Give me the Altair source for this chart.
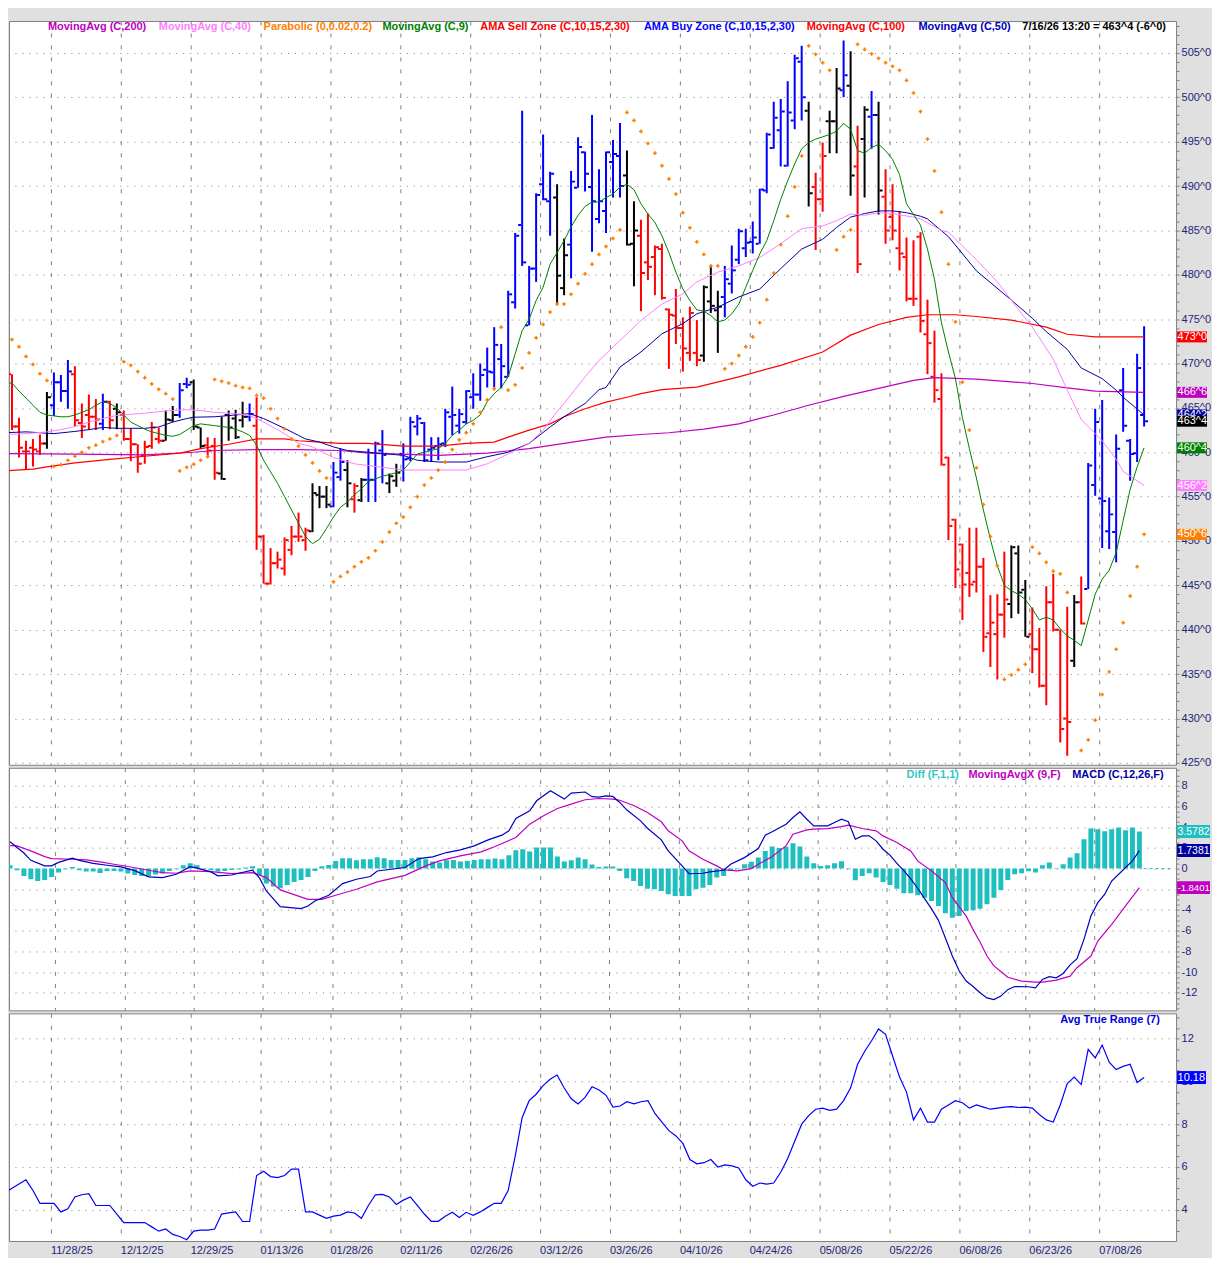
import json
import altair as alt
import pandas as pd

FONT = "Liberation Sans"
AXIS_TXT = "#24247a"
GRID = "#808080"
TEAL = "#20BFBF"

# ---------------- x axis: bar index, date labels at gridlines ----------------
dates = ["11/28/25", "12/12/25", "12/29/25", "01/13/26", "01/28/26", "02/11/26",
         "02/26/26", "03/12/26", "03/26/26", "04/10/26", "04/24/26", "05/08/26",
         "05/22/26", "06/08/26", "06/23/26", "07/08/26"]
date_pos = [6.5, 16.5, 26.5, 36.5, 46.5, 56.5, 66.5, 76.5, 86.5, 96.5,
            106.5, 116.5, 126.5, 136.5, 146.5, 156.5]
last_stamp = "7/16/26 13:20"

# ---------------- price bars ----------------
high = [471.9, 468.8, 463.9, 461.3, 461.5, 462.0, 466.8, 469.0, 468.7, 470.4,
        469.7, 465.5, 466.5, 466.0, 466.6, 465.8, 465.5, 464.7, 462.7, 460.9,
        461.3, 463.4, 462.8, 464.7, 465.2, 467.8, 468.4, 468.2, 462.8, 461.7,
        461.6, 464.0, 464.7, 464.8, 465.7, 465.5, 466.2, 450.7, 449.2, 448.8,
        450.4, 451.7, 453.2, 451.5, 456.5, 456.2, 456.2, 458.9, 460.4, 459.1,
        456.5, 457.1, 460.4, 461.2, 462.5, 457.6, 458.7, 461.0, 464.0, 464.2,
        463.4, 461.7, 461.7, 464.9, 467.4, 464.9, 467.0, 468.9, 470.0, 471.8,
        474.1, 472.2, 478.2, 484.7, 498.5, 481.0, 489.2, 495.8, 491.6, 490.2,
        484.1, 491.7, 495.5, 493.9, 498.0, 491.9, 493.9, 495.2, 497.1, 494.0,
        488.3, 486.2, 486.9, 483.3, 483.5, 476.2, 478.4, 475.2, 476.4, 474.9,
        478.8, 481.0, 478.2, 481.0, 483.3, 485.2, 485.2, 486.0, 489.7, 496.0,
        499.5, 499.8, 501.8, 504.8, 505.8, 499.5, 491.5, 494.9, 498.5, 503.3,
        506.4, 505.2, 496.8, 499.0, 500.7, 499.5, 491.9, 490.2, 487.2, 484.2,
        483.9, 484.8, 477.2, 473.7, 468.9, 459.5, 452.5, 449.7, 451.5, 451.5,
        448.1, 443.9, 444.0, 448.8, 449.5, 449.5, 445.6, 442.5, 440.2, 444.9,
        446.3, 440.0, 442.6, 443.9, 446.0, 458.8, 464.9, 465.9, 454.9, 462.0,
        469.5, 461.5, 471.1, 474.2]
low = [467.9, 462.5, 459.4, 458.1, 458.4, 459.7, 460.4, 464.1, 465.7, 464.9,
       462.9, 461.6, 462.5, 462.5, 462.5, 462.6, 462.6, 461.3, 459.0, 457.7,
       458.7, 460.4, 461.0, 461.3, 463.4, 463.9, 467.2, 462.5, 460.4, 459.5,
       456.9, 456.9, 461.3, 461.5, 462.8, 463.5, 449.0, 445.2, 445.1, 446.9,
       446.1, 448.4, 449.9, 448.9, 451.0, 453.7, 453.7, 453.8, 456.8, 453.8,
       453.2, 454.4, 454.4, 454.4, 456.5, 455.4, 456.1, 456.7, 459.0, 461.9,
       458.9, 458.9, 459.1, 460.6, 461.9, 462.1, 463.2, 464.9, 465.8, 467.3,
       467.3, 467.2, 468.5, 476.2, 481.0, 474.3, 479.2, 488.4, 484.4, 476.8,
       477.7, 479.6, 489.8, 489.4, 482.6, 485.8, 484.7, 488.7, 488.7, 483.3,
       478.7, 475.9, 479.4, 477.7, 477.2, 469.4, 472.2, 469.1, 470.3, 469.7,
       470.2, 475.7, 471.2, 475.2, 477.9, 481.2, 482.0, 482.4, 483.5, 489.2,
       494.2, 492.2, 492.2, 496.4, 497.4, 487.7, 482.8, 487.1, 493.7, 493.7,
       500.0, 488.9, 480.2, 488.7, 494.2, 486.8, 483.5, 483.9, 480.5, 477.0,
       476.5, 473.5, 468.8, 465.6, 458.5, 450.1, 444.7, 441.1, 443.7, 444.2,
       437.5, 435.8, 434.4, 439.1, 441.3, 441.8, 439.2, 435.1, 433.5, 431.5,
       439.8, 427.3, 425.8, 435.8, 440.6, 444.6, 455.1, 449.2, 449.1, 447.6,
       462.3, 456.8, 458.9, 462.9]
opn = [469.0, 468.8, 462.9, 460.1, 460.5, 460.1, 461.0, 465.3, 467.9, 466.9,
       468.8, 463.3, 464.2, 464.0, 463.2, 465.7, 464.9, 464.2, 461.5, 460.9,
       459.7, 460.7, 461.5, 461.3, 463.6, 464.2, 467.7, 467.9, 462.8, 460.8,
       460.7, 457.6, 464.2, 463.8, 463.6, 464.0, 463.0, 450.5, 445.2, 447.5,
       446.9, 449.0, 450.5, 450.1, 451.1, 455.2, 455.0, 453.9, 457.2, 458.0,
       454.7, 454.6, 456.9, 456.9, 460.2, 456.5, 456.8, 459.8, 459.3, 462.9,
       463.3, 460.3, 460.7, 461.0, 464.0, 463.0, 463.4, 466.2, 466.5, 469.3,
       469.0, 470.5, 468.5, 476.9, 485.6, 474.3, 480.7, 490.2, 488.3, 488.7,
       478.5, 483.4, 489.8, 493.8, 489.9, 486.3, 487.2, 492.7, 493.4, 491.2,
       483.5, 484.4, 481.4, 482.0, 482.9, 476.1, 475.4, 474.0, 471.2, 471.2,
       470.9, 477.0, 476.0, 477.5, 479.0, 481.7, 483.0, 483.7, 483.5, 489.5,
       494.3, 496.3, 492.3, 497.4, 504.0, 498.5, 489.9, 488.5, 497.3, 497.3,
       500.8, 501.3, 492.2, 495.3, 497.8, 498.0, 488.8, 486.5, 483.0, 482.0,
       477.3, 484.3, 473.3, 468.5, 466.0, 459.4, 452.4, 449.6, 446.4, 445.4,
       447.1, 439.6, 439.5, 441.7, 442.9, 448.6, 444.5, 439.5, 437.8, 433.7,
       443.1, 440.0, 430.0, 436.5, 443.1, 444.6, 456.3, 454.8, 451.1, 451.0,
       467.0, 461.3, 459.9, 464.2]
close = [469.0, 462.9, 460.5, 460.1, 460.3, 461.0, 466.2, 467.9, 466.9, 469.1,
         463.6, 462.9, 464.0, 463.7, 465.7, 463.6, 464.5, 461.5, 460.9, 458.7,
         460.6, 462.8, 461.3, 463.7, 464.2, 467.0, 467.6, 462.9, 460.7, 460.2,
         457.7, 457.0, 462.8, 461.7, 464.0, 464.3, 450.5, 445.2, 447.5, 447.9,
         450.1, 450.5, 450.5, 451.2, 455.4, 455.0, 454.1, 457.7, 458.9, 456.5,
         456.2, 456.9, 456.9, 461.0, 459.7, 457.3, 457.7, 459.2, 463.4, 463.8,
         459.1, 460.5, 460.9, 464.5, 464.2, 464.3, 466.9, 466.5, 468.7, 469.1,
         472.1, 469.7, 477.8, 484.4, 481.4, 480.7, 489.0, 488.5, 491.4, 479.9,
         482.2, 490.5, 494.4, 491.4, 488.3, 488.3, 493.8, 493.6, 490.0, 483.4,
         485.0, 480.2, 480.9, 483.1, 477.4, 475.5, 474.0, 471.7, 475.7, 470.4,
         478.6, 476.5, 476.4, 479.5, 480.5, 484.9, 483.6, 484.2, 489.6, 495.8,
         497.7, 498.4, 498.3, 504.4, 500.0, 489.2, 488.5, 493.4, 497.3, 501.0,
         502.5, 491.2, 481.2, 498.6, 498.0, 489.5, 485.0, 485.0, 482.4, 477.3,
         477.3, 474.8, 472.3, 467.0, 458.6, 451.7, 446.8, 445.1, 445.1, 447.1,
         439.2, 440.8, 441.7, 443.4, 449.3, 444.2, 439.2, 437.8, 433.7, 443.1,
         440.0, 428.8, 429.6, 443.1, 440.7, 458.5, 463.4, 454.5, 453.0, 460.4,
         463.0, 459.8, 469.5, 463.5]
# AMA zone of each bar: B = buy zone (blue), R = sell zone (red), K = neutral (black)
zone = ("BRRRRRKBBBRRRRBRKRRRRRRKKBBKKRRKKKKBRRRRRRRRKKKBBKRKBBBKK"
        "BBBBBBBBBBBBBBBBBBBBBBKKBBBBBBBBKKRRRRRRRRRKKKBBBBBBBBBBBB"
        "KRRKKBKRKBKRRRRRRRRRRRRRRRRRRKKKRRRRRRKRBBBBBBBBB")

# ---------------- parabolic SAR ----------------
sar = [473.2, 472.7, 471.9, 470.8, 469.9, 468.85, 468.1, 458.4, 458.6, 459.1,
       459.55, 460.0, 460.5, 460.8, 461.2, 461.5, 461.9, 470.2, 469.8, 469.1,
       468.4, 467.7, 467.1, 466.6, 466.0, 457.9, 458.3, 458.65, 459.1, 459.5,
       468.2, 468.0, 467.8, 467.5, 467.3, 467.2, 466.4, 466.1, 464.9, 463.8,
       462.65, 461.5, 460.7, 459.7, 458.8, 457.9, 457.1, 445.4, 446.0, 446.5,
       447.1, 447.65, 448.1, 448.9, 449.9, 451.0, 452.0, 452.7, 453.8, 455.0,
       456.3, 457.1, 458.0, 458.9, 460.3, 461.4, 462.2, 463.2, 464.5, 465.9,
       467.15, 474.1, 467.0, 467.6, 469.5, 471.2, 472.9, 474.4, 475.8, 476.7,
       476.7, 477.8, 479.0, 480.1, 481.2, 482.3, 483.2, 484.1, 485.05, 498.3,
       497.4, 496.15, 494.8, 493.7, 492.3, 490.8, 489.1, 487.0, 485.3, 483.7,
       482.3, 481.0, 481.0, 469.4, 470.0, 470.9, 471.9, 473.0, 474.6, 477.2,
       480.2, 483.4, 486.6, 489.9, 493.4, 505.8, 504.85, 503.9, 503.05, 482.8,
       484.3, 485.05, 505.98, 505.4, 504.9, 504.4, 503.9, 503.5, 503.05, 501.9,
       500.5, 498.4, 495.3, 491.7, 487.05, 481.2, 474.7, 467.9, 462.5, 458.25,
       454.1, 450.5, 447.2, 434.4, 434.9, 435.5, 436.1, 449.3, 448.6, 447.6,
       446.6, 446.3, 444.2, None, 426.4, 427.6, 429.8, 432.7, 435.25, 437.8,
       440.8, 443.8, 447.1, 450.75]

# ---------------- moving averages ----------------
ma9 = [467.8, 467.8, 466.9, 466.1, 465.3, 464.5, 464.2, 464.1, 464.0, 464.0,
       464.2, 464.5, 464.8, 465.3, 465.7, 465.5, 465.0, 464.2, 463.4, 463.0,
       462.6, 462.3, 462.1, 461.9, 461.8, 462.0, 462.5, 463.0, 463.2, 463.1,
       463.0, 462.9, 462.8, 462.6, 462.3, 461.9, 460.8, 459.1, 457.8, 456.5,
       455.0, 453.5, 452.0, 450.5, 449.7, 450.2, 451.4, 452.7, 453.8, 454.4,
       455.2, 455.9, 456.7, 457.0, 457.3, 457.5, 457.7, 458.0, 458.9, 459.8,
       460.0, 460.2, 460.4, 461.0, 461.9, 462.5, 463.2, 463.6, 464.2, 465.7,
       466.6, 467.3, 468.5, 471.1, 473.7, 475.0, 477.1, 478.6, 481.2, 482.5,
       483.85, 485.4, 486.7, 487.7, 488.2, 488.2, 488.7, 489.1, 489.9, 490.2,
       489.6, 488.0, 486.85, 485.9, 484.4, 482.5, 480.3, 478.4, 477.1, 476.05,
       475.9, 475.4, 474.7, 474.9, 475.6, 476.7, 478.6, 480.5, 482.35, 483.85,
       486.1, 488.5, 490.6, 492.5, 494.2, 494.9, 495.3, 495.55, 495.8, 496.2,
       497.05, 496.4, 494.0, 493.7, 494.35, 494.7, 494.0, 493.0, 491.3, 488.0,
       486.8, 485.6, 482.9, 479.5, 474.6, 471.3, 468.3, 463.9, 460.4, 457.1,
       453.5, 450.2, 447.2, 445.0, 444.4, 444.0, 443.4, 442.35, 441.1, 441.4,
       441.1, 440.1, 439.3, 438.8, 438.2, 441.1, 444.0, 445.7, 446.7, 448.7,
       452.3, 455.8, 458.35, 460.5]

ma40_k = [0, 3, 6, 8, 10, 12, 14, 16, 20, 23, 26, 28, 30, 33, 35, 37, 40, 42, 44, 47,
          50, 52, 57, 61, 66, 69, 72, 75, 77, 79, 80, 83, 85, 86, 88, 91, 94, 97, 99, 102,
          105, 108, 111, 114, 117, 119, 121, 123, 125, 127, 130, 131, 134, 135, 139, 142, 145, 147, 150, 152,
          154, 157, 159, 160, 163]
ma40_v = [462.0, 462.1, 462.3, 462.55, 462.9, 463.4, 463.8, 464.15, 464.4, 464.65,
          464.8, 464.7, 464.5, 464.35, 464.15, 463.4, 462.1, 461.0, 460.6, 459.4,
          458.7, 458.5, 458.0, 458.0, 458.0, 458.7, 459.8, 461.0, 462.5, 464.6,
          465.5, 468.5, 470.35, 471.1, 472.6, 474.85, 476.7, 477.85, 479.2, 480.3,
          481.0, 481.95, 483.5, 485.2, 485.5, 486.1, 486.85, 486.7, 487.0, 486.9,
          486.5, 486.3, 485.0, 484.8, 481.7, 479.2, 476.1, 474.1, 470.5, 467.0,
          463.7, 461.3, 459.2, 457.85, 456.25]

ma50_k = [0, 3, 5, 7, 10, 12, 14, 16, 20, 22, 24, 26, 27, 30, 33, 35, 37, 40, 42, 43,
          45, 47, 49, 52, 57, 59, 62, 66, 69, 72, 75, 78, 80, 83, 85, 86, 88, 91, 94, 97,
          99, 102, 105, 108, 111, 114, 117, 119, 121, 123, 125, 127, 129, 131, 132, 135, 139, 144, 147, 149,
          152, 154, 157, 159, 160, 163]
ma50_v = [462.2, 462.3, 462.2, 462.1, 462.35, 462.55, 462.8, 462.7, 462.7, 462.85,
          463.4, 463.8, 463.95, 464.0, 464.2, 464.35, 463.8, 462.7, 461.9, 461.5,
          461.15, 460.6, 460.2, 460.0, 459.65, 459.1, 458.9, 458.9, 459.5, 460.0,
          461.0, 462.85, 464.0, 465.5, 467.05, 467.3, 469.6, 471.3, 473.35, 474.5,
          475.6, 476.35, 477.5, 478.4, 480.7, 482.9, 484.0, 485.35, 486.5, 486.9,
          487.2, 487.2, 487.0, 486.6, 486.3, 484.3, 480.45, 477.15, 475.1, 473.6,
          471.6, 469.5, 468.3, 467.0, 466.2, 464.2]

ma100_k = [0, 4, 6, 10, 15, 20, 25, 28, 32, 36, 40, 42, 45, 48, 52, 57, 62, 66, 70, 72,
           75, 78, 80, 83, 86, 89, 91, 94, 99, 105, 111, 117, 121, 125, 129, 132, 136, 139, 144, 149,
           152, 156, 163]
ma100_v = [457.9, 458.1, 458.35, 458.8, 459.2, 459.55, 459.9, 460.4, 460.9, 461.5,
           461.5, 461.3, 461.15, 461.0, 461.0, 460.7, 460.7, 461.0, 461.15, 461.7,
           462.5, 463.2, 464.0, 464.9, 465.65, 466.2, 466.6, 467.05, 467.35, 468.5,
           469.8, 471.3, 473.2, 474.4, 475.2, 475.5, 475.5, 475.3, 474.9, 474.1,
           473.3, 473.0, 473.0]

ma200_k = [0, 10, 20, 27, 30, 36, 42, 48, 52, 62, 69, 75, 80, 86, 91, 95, 100, 105, 110, 115,
           120, 125, 130, 133, 139, 147, 152, 156, 163]
ma200_v = [459.85, 459.8, 459.7, 460.0, 460.2, 460.3, 460.3, 460.2, 459.9, 459.65,
           459.9, 460.4, 461.0, 461.7, 462.0, 462.2, 462.6, 463.2, 464.2, 465.3,
           466.3, 467.2, 468.1, 468.4, 468.25, 467.75, 467.25, 466.9, 466.75]

# ---------------- MACD panel ----------------
hist = [0.32, -0.16, -0.71, -1.03, -1.19, -1.1, -0.81, -0.39, -0.06, 0.16,
        -0.16, -0.29, -0.29, -0.42, -0.23, -0.23, -0.29, -0.48, -0.61, -0.71,
        -0.77, -0.58, -0.48, -0.23, -0.06, 0.32, 0.52, 0.32, -0.06, -0.16,
        -0.29, -0.23, -0.13, -0.06, 0.1, 0.23, -0.65, -1.45, -1.74, -1.9,
        -1.58, -1.29, -1.1, -0.81, -0.23, 0.23, 0.35, 0.74, 1.0, 1.0,
        0.81, 0.9, 0.9, 1.1, 1.0, 0.84, 0.84, 0.84, 1.0, 1.06,
        0.9, 0.68, 0.58, 0.81, 0.84, 0.68, 0.74, 0.84, 0.9, 0.9,
        0.97, 0.9, 1.29, 1.77, 1.87, 1.65, 2.03, 2.03, 2.03, 1.16,
        0.68, 0.81, 1.06, 0.9, 0.4, 0.15, 0.19, 0.19, -0.23, -0.94,
        -1.19, -1.68, -1.94, -2.0, -2.16, -2.48, -2.65, -2.65, -2.65, -2.0,
        -1.84, -1.58, -0.87, -0.71, -0.23, -0.06, 0.42, 0.65, 1.06, 1.71,
        2.13, 2.0, 2.1, 2.45, 2.13, 1.16, 0.52, 0.26, 0.32, 0.52,
        0.71, -0.06, -1.13, -0.71, -0.45, -0.87, -1.29, -1.58, -1.94, -2.39,
        -2.39, -2.58, -2.81, -3.13, -3.61, -4.32, -4.74, -4.58, -4.1, -4.03,
        -3.87, -3.45, -2.81, -2.06, -1.1, -0.55, -0.45, -0.26, -0.39, 0.32,
        0.58, 0.06, 0.42, 1.06, 1.48, 2.84, 3.87, 3.81, 3.61, 3.81,
        3.97, 3.71, 3.97, 3.5782]

macd_k = [0, 2, 3, 5, 6, 7, 9, 10, 12, 14, 16, 18, 20, 22, 24, 26, 27, 29, 30, 32,
          33, 35, 36, 37, 39, 42, 43, 44, 46, 48, 50, 52, 53, 57, 59, 61, 63, 65, 67, 69,
          71, 72, 73, 75, 76, 78, 80, 81, 83, 84, 85, 86, 87, 88, 89, 91, 92, 94, 95, 97,
          98, 100, 101, 103, 104, 106, 108, 109, 110, 112, 113, 114, 115, 116, 118, 119, 120, 121, 122, 123,
          124, 125, 126, 127, 128, 129, 130, 131, 132, 133, 134, 135, 136, 137, 138, 139, 140, 141, 142, 143,
          144, 145, 147, 148, 149, 150, 151, 152, 153, 154, 155, 156, 157, 158, 159, 161, 162, 163]
macd_v = [2.6, 1.5, 0.8, 0.26, 0.26, 0.6, 1.0, 0.8, 0.5, 0.32, 0.16, -0.2, -0.8, -0.87, -0.55, 0.19, 0.05, -0.32, -0.7, -0.62,
          -0.45, -0.16, -0.9, -2.16, -3.68, -3.87, -3.61, -3.13, -2.58, -1.45, -1.03, -0.77, -0.23, 0.1, 0.97, 1.13, 1.55, 1.81, 2.19, 2.77,
          3.23, 3.65, 4.84, 5.58, 6.55, 7.52, 6.71, 7.29, 7.4, 6.95, 6.9, 7.03, 6.97, 6.39, 5.68, 4.61, 3.9, 2.77, 1.71, 0.26,
          -0.5, -0.45, -0.32, -0.16, 0.42, 1.06, 1.94, 3.23, 3.55, 4.29, 4.94, 5.48, 4.77, 4.13, 4.13, 4.45, 4.77, 4.52, 2.84, 3.16,
          3.16, 2.68, 1.87, 1.3, 0.5, -0.2, -1.0, -1.9, -2.9, -3.9, -5.0, -6.7, -8.45, -9.9, -10.87, -11.4, -12.0, -12.5, -12.65, -12.32,
          -11.7, -11.4, -11.42, -11.52, -10.71, -10.45, -10.55, -10.13, -9.3, -8.71, -6.84, -4.58, -3.29, -2.48, -1.2, 0.1, 0.74, 1.7381]

sig_k = [0, 1, 3, 5, 6, 9, 11, 13, 15, 17, 20, 22, 24, 26, 29, 32, 35, 37, 39, 43,
         45, 47, 50, 53, 57, 60, 62, 65, 68, 70, 73, 75, 77, 79, 81, 83, 85, 87, 88, 90,
         92, 94, 95, 97, 98, 100, 102, 103, 105, 107, 108, 110, 112, 113, 115, 116, 118, 120, 121, 123,
         125, 126, 128, 130, 131, 133, 135, 136, 138, 139, 140, 141, 142, 143, 144, 146, 148, 149, 151, 153,
         154, 156, 157, 159, 161, 163]
sig_v = [2.22, 2.19, 1.71, 1.16, 0.97, 0.9, 0.84, 0.65, 0.42, 0.2, -0.16, -0.39, -0.45, -0.23, -0.29, -0.48, -0.39, -0.87, -2.06, -2.97,
         -2.97, -2.58, -2.0, -1.29, -0.65, 0.26, 0.74, 1.23, 1.61, 2.13, 3.0, 4.29, 5.1, 5.81, 6.23, 6.65, 6.77, 6.71, 6.6, 6.1,
         5.42, 4.52, 3.65, 2.68, 1.71, 0.9, 0.26, -0.13, -0.23, 0.0, 0.42, 1.16, 2.19, 3.32, 3.74, 3.81, 3.87, 4.06, 4.19, 3.87,
         3.65, 3.16, 2.52, 1.71, 0.74, -0.23, -1.35, -2.81, -4.6, -5.9, -7.1, -8.45, -9.4, -9.95, -10.5, -10.87, -10.97, -10.97, -10.77, -10.39,
         -9.58, -8.45, -7.0, -5.39, -3.61, -1.8401]

# ---------------- Average True Range (7) ----------------
atr = [4.8, 5.0, 5.2, 5.4, 4.9, 4.3, 4.3, 4.3, 3.9, 4.05,
       4.6, 4.7, 4.75, 4.2, 4.2, 4.2, 3.8, 3.4, 3.4, 3.4,
       3.4, 3.2, 3.0, 3.1, 2.85, 2.75, 2.6, 3.0, 3.05, 3.05,
       3.1, 3.8, 3.85, 3.9, 3.45, 3.45, 5.6, 5.8, 5.55, 5.5,
       5.6, 5.9, 5.9, 3.9, 3.9, 3.75, 3.6, 3.7, 3.75, 3.9,
       3.85, 3.6, 4.2, 4.7, 4.72, 4.6, 4.25, 4.45, 4.6, 4.2,
       3.8, 3.46, 3.46, 3.7, 3.88, 3.64, 3.88, 3.74, 3.9, 4.1,
       4.3, 4.3, 4.9, 6.5, 8.3, 9.1, 9.4, 9.8, 10.1, 10.3,
       9.7, 9.2, 8.95, 9.25, 9.75, 9.6, 9.35, 8.8, 8.85, 9.05,
       8.95, 9.05, 9.1, 8.5, 8.1, 7.7, 7.45, 7.1, 6.35, 6.15,
       6.2, 6.35, 6.0, 6.1, 6.05, 5.95, 5.4, 5.1, 5.25, 5.2,
       5.25, 5.75, 6.4, 7.2, 8.0, 8.4, 8.7, 8.75, 8.65, 8.7,
       9.1, 9.7, 10.8, 11.4, 11.9, 12.45, 12.2, 11.2, 10.2, 9.5,
       8.2, 8.75, 8.1, 8.1, 8.7, 8.9, 9.1, 9.0, 8.75, 8.9,
       8.8, 8.7, 8.75, 8.8, 8.82, 8.78, 8.8, 8.75, 8.45, 8.2,
       8.1, 8.9, 9.9, 10.2, 9.85, 11.5, 11.1, 11.7, 10.9, 10.55,
       10.7, 10.8, 9.95, 10.18]

N = len(close)
assert all(len(a) == N for a in (high, low, opn, zone, sar, ma9, hist, atr))
assert len(ma40_k) == len(ma40_v) and len(ma50_k) == len(ma50_v)
assert len(ma100_k) == len(ma100_v) and len(ma200_k) == len(ma200_v)
assert len(macd_k) == len(macd_v) and len(sig_k) == len(sig_v)


def eighths(v):
    whole = int(v)
    frac = int(round((v - whole) * 8))
    if frac == 8:
        whole, frac = whole + 1, 0
    return f"{whole}^{frac}"


# ---------------- layout ----------------
W = 1169                      # plot width; 7 px per bar
X0 = 0.571                    # bar index at the left edge of the plot
H_PRICE, H_MACD, H_ATR = 745, 243, 228
xs = alt.Scale(domain=[X0, X0 + W / 7.0], nice=False, zero=False)
ps = alt.Scale(domain=[424.78, 508.6], nice=False, zero=False)
ms = alt.Scale(domain=[-13.7, 9.74], nice=False, zero=False)
ats = alt.Scale(domain=[2.54, 13.18], nice=False, zero=False)


def x_axis(labels=False):
    kw = dict(values=date_pos, grid=True, gridColor=GRID, gridDash=[4, 8], gridWidth=1,
              domain=False, ticks=False, title=None)
    if labels:
        kw.update(labels=True,
                  labelExpr=json.dumps(dates) + "[round((datum.value - 6.5) / 10)]",
                  labelAlign="left", labelBaseline="top", labelPadding=4, labelFont=FONT,
                  labelFontSize=11, labelColor=AXIS_TXT, labelOverlap=False,
                  labelBound=False, labelFlush=False)
    else:
        kw.update(labels=False)
    return alt.Axis(**kw)


def y_axis(values, major_test, label_expr):
    return alt.Axis(orient="right", values=values, title=None, domain=False,
                    ticks=True, tickSize=3, tickColor=GRID, tickWidth=1,
                    labelExpr=label_expr, labelFont=FONT, labelFontSize=11,
                    labelColor=AXIS_TXT, labelPadding=2, labelOverlap=False,
                    labelBound=False, labelFlush=False,
                    grid=True, gridColor=GRID, gridDash=[1, 6], gridWidth=1,
                    gridOpacity={"condition": {"test": major_test, "value": 1}, "value": 0})


def panel_helpers(xaxis, yaxis, yscale):
    """Every layer of a panel carries the same axis definition so they merge cleanly."""
    def X(field):
        return alt.X(field, scale=xs, axis=xaxis)

    def Y(field):
        return alt.Y(field, scale=yscale, axis=yaxis)

    def line(kv, vv, color, width=1.0):
        df = pd.DataFrame({"k": kv, "v": vv})
        return alt.Chart(df).mark_line(color=color, strokeWidth=width, clip=True).encode(
            x=X("k:Q"), y=Y("v:Q"))

    def vbox(value, text, color, width, height, size=11):
        d = alt.Data(values=[{"v": value, "t": text}])
        box = alt.Chart(d).mark_tick(orient="horizontal", size=width, thickness=height,
                                     color=color, opacity=1).encode(
            x=alt.value(W + 1 + width / 2), y=Y("v:Q"))
        lab = alt.Chart(d).mark_text(align="left", baseline="middle", font=FONT,
                                     fontSize=size, color="white").encode(
            x=alt.value(W + 1.5), y=Y("v:Q"), text="t:N")
        return [box, lab]

    return X, Y, line, vbox


def header(txt, x, y, color):
    return alt.Chart(alt.Data(values=[{"t": txt}])).mark_text(
        align="left", baseline="middle", font=FONT, fontSize=11, fontWeight="bold",
        color=color).encode(x=alt.value(x), y=alt.value(y), text="t:N")


# ---------------- price panel ----------------
px_axis = x_axis()
py_axis = y_axis(list(range(425, 509)), "datum.value % 5 === 0",
                 "datum.value % 5 === 0 ? datum.value + '^0' : ''")
X, Y, line, vbox = panel_helpers(px_axis, py_axis, ps)

bars = pd.DataFrame({"k": list(range(N)), "high": high, "low": low,
                     "open": opn, "close": close, "zone": list(zone)})
zone_color = alt.Color("zone:N", legend=None,
                       scale=alt.Scale(domain=["B", "R", "K"],
                                       range=["#0000FF", "#FF0000", "#000000"]))

hl = alt.Chart(bars).mark_rule(strokeWidth=2, clip=True).encode(
    x=X("k:Q"), y=Y("low:Q"), y2="high:Q", color=zone_color)
open_t = alt.Chart(bars).mark_tick(orient="horizontal", size=3, thickness=2, xOffset=-2.5,
                                   opacity=1, clip=True).encode(
    x=X("k:Q"), y=Y("open:Q"), color=zone_color)
close_t = alt.Chart(bars).mark_tick(orient="horizontal", size=3, thickness=2, xOffset=2.5,
                                    opacity=1, clip=True).encode(
    x=X("k:Q"), y=Y("close:Q"), color=zone_color)

sar_df = pd.DataFrame({"k": list(range(N)), "v": sar}).dropna()
sar_pts = alt.Chart(sar_df).mark_point(shape="cross", filled=True, size=14, color="#FF8000",
                                       opacity=1, clip=True).encode(x=X("k:Q"), y=Y("v:Q"))

price_layers = [
    hl, open_t, close_t,
    line(ma200_k, ma200_v, "#C000C0", 1.2),
    line(ma100_k, ma100_v, "#FF0000", 1.2),
    line(ma50_k, ma50_v, "#0000A0", 1.0),
    line(ma40_k, ma40_v, "#FF80FF", 1.0),
    line(list(range(N)), ma9, "#008000", 1.0),
    sar_pts,
]
price_layers += vbox(ma50_v[-1], eighths(ma50_v[-1]), "#0000A0", 30, 11)
price_layers += vbox(ma100_v[-1], eighths(ma100_v[-1]), "#FF0000", 30, 11)
price_layers += vbox(ma200_v[-1], eighths(ma200_v[-1]), "#C000C0", 30, 11)
price_layers += vbox(close[-1], eighths(close[-1]), "#000000", 30, 11)
price_layers += vbox(ma9[-1], eighths(ma9[-1]), "#008000", 30, 11)
price_layers += vbox(ma40_v[-1], eighths(ma40_v[-1]), "#FF80FF", 30, 11)
price_layers += vbox(sar[-1], eighths(sar[-1]), "#FF8000", 30, 11)

chg = close[-1] - close[-2]
chg_txt = ("-" if chg < 0 else "") + eighths(abs(chg))
price_headers = [
    ("MovingAvg (C,200)", 39, "#C000C0"),
    ("MovingAvg (C,40)", 150, "#FF80FF"),
    ("Parabolic (0,0.02,0.2)", 255, "#FF8000"),
    ("MovingAvg (C,9)", 374, "#008000"),
    ("AMA Sell Zone (C,10,15,2,30)", 472, "#FF0000"),
    ("AMA Buy Zone (C,10,15,2,30)", 636, "#0000FF"),
    ("MovingAvg (C,100)", 799, "#FF0000"),
    ("MovingAvg (C,50)", 911, "#0000C0"),
    (f"{last_stamp} = {eighths(close[-1])} ({chg_txt})", 1015, "#000000"),
]
price_layers += [header(t, x, 6, c) for t, x, c in price_headers]
price = alt.layer(*price_layers).properties(width=W, height=H_PRICE)

# ---------------- MACD panel ----------------
mx_axis = x_axis()
my_axis = y_axis([x / 2 for x in range(-27, 20)], "datum.value % 2 === 0",
                 "datum.value % 2 === 0 ? '' + datum.value : ''")
X, Y, line, vbox = panel_helpers(mx_axis, my_axis, ms)

hist_df = pd.DataFrame({"k": list(range(N)), "v": hist})
hist_bars = alt.Chart(hist_df).mark_bar(size=5, color=TEAL, clip=True).encode(
    x=X("k:Q"), y=Y("v:Q"), y2=alt.datum(0))
tail_df = pd.DataFrame({"k": [N - 0.4, X0 + W / 7.0], "v": [0.0, 0.0]})
zero_tail = alt.Chart(tail_df).mark_line(color=TEAL, strokeDash=[3, 3], strokeWidth=1,
                                         clip=True).encode(x=X("k:Q"), y=Y("v:Q"))
macd_layers = [
    hist_bars, zero_tail,
    line(sig_k, sig_v, "#C000C0", 1.2),
    line(macd_k, macd_v, "#0000C0", 1.2),
]
macd_layers += vbox(hist[-1], f"{hist[-1]:.4f}", TEAL, 33, 13, size=10.5)
macd_layers += vbox(macd_v[-1], f"{macd_v[-1]:.4f}", "#0000A0", 33, 13, size=10.5)
macd_layers += vbox(sig_v[-1], f"{sig_v[-1]:.4f}", "#C000C0", 33, 13, size=9.5)
macd_layers += [header("Diff (F,1,1)", 899, 7, "#30C8C8"),
                header("MovingAvgX (9,F)", 961, 7, "#C000C0"),
                header("MACD (C,12,26,F)", 1065, 7, "#0000A0")]
macd = alt.layer(*macd_layers).properties(width=W, height=H_MACD)

# ---------------- ATR panel ----------------
ax_axis = x_axis(labels=True)
ay_axis = y_axis([x / 2 for x in range(6, 27)], "datum.value % 2 === 0",
                 "datum.value % 2 === 0 ? '' + datum.value : ''")
X, Y, line, vbox = panel_helpers(ax_axis, ay_axis, ats)

atr_layers = [line(list(range(N)), atr, "#0000FF", 1.2)]
atr_layers += vbox(atr[-1], f"{atr[-1]:.2f}", "#0000FF", 29, 13)
atr_layers += [header("Avg True Range (7)", 1053, 7, "#0000E0")]
atrp = alt.layer(*atr_layers).properties(width=W, height=H_ATR)

chart = alt.vconcat(price, macd, atrp, spacing=3, bounds="flush").properties(
    padding={"left": 0, "top": 10, "right": 0, "bottom": 0},
    background="#E0E0E0",
).configure_view(stroke=GRID, strokeWidth=1, fill="white")

chart.save("out.html", embed_options={"renderer": "svg", "actions": False})
